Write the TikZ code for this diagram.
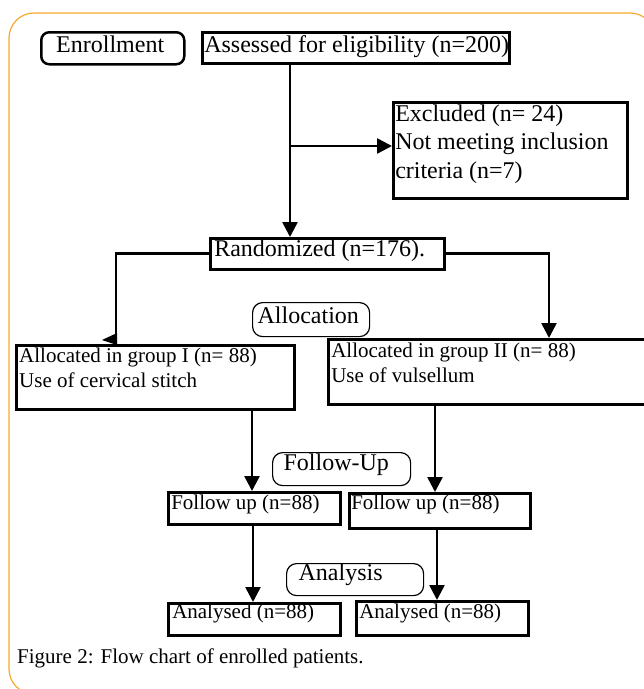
\documentclass[tikz,border=0pt]{standalone}
\usepackage{fontspec}
\setmainfont{Liberation Serif}
\usetikzlibrary{arrows.meta}
\definecolor{framecol}{RGB}{245,170,45}
\newcommand{\fntbig}{\fontsize{24}{28.5}\selectfont}
\newcommand{\fntsmall}{\fontsize{21}{25.5}\selectfont}
% #1 width, #2 height, #3 font, #4 left pad, #5 first baseline from top, #6 text
\newcommand{\boxtext}[6]{\parbox[c][#2][t]{#1}{#3\raggedright\leftskip=#4\relax\rule{0pt}{#5}#6}}
\begin{document}
\begin{tikzpicture}[x=1pt,y=-1pt,
  box/.style={draw, line width=2.5pt, inner sep=0pt, anchor=north west},
  tag/.style={draw, line width=1.2pt, rounded corners=10pt, inner sep=0pt, anchor=north west},
  conn/.style={line width=2.6pt},
  arr/.style={conn, -{Triangle[width=15pt,length=15pt]}},
  frame/.style={draw=framecol, line width=1.2pt, rounded corners=25pt}]
\useasboundingbox (0,0) rectangle (644,689);
\draw[frame] (9,13) rectangle (655,694);

% nodes
\node[tag, line width=2.5pt, rounded corners=8pt] (enr) at (40,31)
  {\boxtext{143pt}{32pt}{\fntbig}{15pt}{20pt}{\mbox{Enrollment}}};
\node[box] (ass) at (201,31)
  {\boxtext{307pt}{31pt}{\fntbig}{2pt}{20pt}{\mbox{Assessed for eligibility (n=200)}}};
\node[box] (ex) at (392,101)
  {\boxtext{234pt}{96pt}{\fntbig}{2pt}{19pt}{\mbox{Excluded (n= 24)}\\\mbox{Not meeting inclusion}\\\mbox{criteria (n=7)}}};
\node[box] (rand) at (209,237)
  {\boxtext{234pt}{31pt}{\fntbig}{4pt}{18pt}{\mbox{Randomized (n=176).}}};
\node[tag] (alloc) at (252,302)
  {\boxtext{117pt}{34pt}{\fntbig}{5pt}{21pt}{\mbox{Allocation}}};
\node[box] (g1) at (15,344)
  {\boxtext{278pt}{64pt}{\fntsmall}{3pt}{17pt}{\mbox{Allocated in group I (n= 88)}\\\mbox{Use of cervical stitch}}};
\node[box] (g2) at (327,338)
  {\boxtext{333pt}{65pt}{\fntsmall\baselineskip=24.5pt}{3pt}{18.5pt}{\mbox{Allocated in group II (n= 88)}\\\mbox{Use of vulsellum}}};
\node[tag] (fut) at (272,452)
  {\boxtext{138pt}{33pt}{\fntbig}{11pt}{18pt}{\mbox{Follow-Up}}};
\node[box] (fu1) at (167,491)
  {\boxtext{172pt}{32pt}{\fntsmall}{3pt}{17pt}{\mbox{Follow up (n=88)}}};
\node[box] (fu2) at (348,492)
  {\boxtext{181pt}{35pt}{\fntsmall}{2pt}{16pt}{\mbox{Follow up (n=88)}}};
\node[tag] (ant) at (286,563)
  {\boxtext{137pt}{32pt}{\fntbig}{12pt}{17pt}{\mbox{Analysis}}};
\node[box] (an1) at (167,602)
  {\boxtext{172pt}{32pt}{\fntsmall}{4pt}{15pt}{\mbox{Analysed (n=88)}}};
\node[box] (an2) at (355,600)
  {\boxtext{172pt}{34pt}{\fntsmall}{3pt}{17pt}{\mbox{Analysed (n=88)}}};
\node[anchor=base west, inner sep=0pt, font=\fntsmall] (cap) at (17,663)
  {Figure 2: Flow chart of enrolled patients.};

% guide coordinates
\coordinate (v1) at (290,0);
\coordinate (h1) at (290,146);
\coordinate (v2) at (116,0);
\coordinate (v3) at (549,0);
\coordinate (v4) at (252,0);
\coordinate (v5) at (435,0);
\coordinate (v6) at (253,0);
\coordinate (v7) at (437,0);

% connectors
\draw[arr] (ass.south -| v1) -- (rand.north -| v1);
\draw[arr] (h1) -- (h1 -| ex.west);
\coordinate (lend) at (g1.north -| v2);
\draw[conn] (rand.west) -| (lend);
\fill (lend) ++(1,-11) -- ++(0,12) -- ++(-15,-5) -- cycle;
\draw[arr] (rand.east) -| (g2.north -| v3);
\draw[arr] (g1.south -| v4) -- (fu1.north -| v4);
\draw[arr] (g2.south -| v5) -- (fu2.north -| v5);
\draw[arr] (fu1.south -| v6) -- (an1.north -| v6);
\draw[arr] (fu2.south -| v7) -- (an2.north -| v7);
\end{tikzpicture}
\end{document}
